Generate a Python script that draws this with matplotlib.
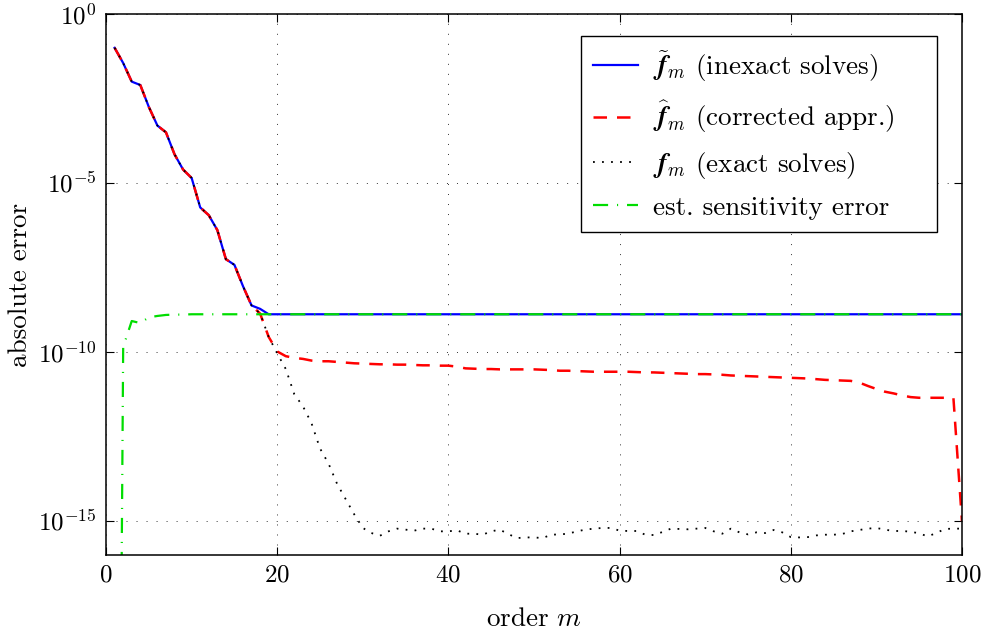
import matplotlib as mpl

mpl.use("Agg")

import matplotlib.pyplot as plt
import numpy as np
from matplotlib.ticker import FixedLocator, LogFormatterMathtext, NullLocator

plt.rcParams["font.family"] = "serif"
plt.rcParams["font.serif"] = ["cmr10"]
plt.rcParams["mathtext.fontset"] = "cm"
plt.rcParams["axes.formatter.use_mathtext"] = True
plt.rcParams["font.size"] = 19

m = np.arange(1, 101)

# log10 of the absolute error
head = [-1.0, -1.45, -2.0, -2.1, -2.75, -3.3, -3.5, -4.15, -4.6, -4.85,
        -5.72, -5.95, -6.39, -7.25, -7.42, -8.05, -8.62]

inexact_log = head + [-8.72, -8.88] + [-8.88] * 81

corrected_log = head + [
    -8.86, -9.55, -9.98, -10.12, -10.17, -10.2, -10.25, -10.27, -10.27, -10.29,
    -10.31, -10.33, -10.34, -10.35, -10.36, -10.36, -10.37, -10.37, -10.38, -10.39,
    -10.39, -10.4, -10.4, -10.43, -10.48, -10.49, -10.5, -10.5, -10.51, -10.51,
    -10.51, -10.51, -10.51, -10.52, -10.53, -10.55, -10.55, -10.56, -10.57, -10.58,
    -10.58, -10.58, -10.58, -10.58, -10.59, -10.6, -10.6, -10.61, -10.62, -10.63,
    -10.64, -10.65, -10.65, -10.66, -10.67, -10.69, -10.7, -10.71, -10.72, -10.73,
    -10.74, -10.75, -10.76, -10.77, -10.78, -10.8, -10.82, -10.83, -10.84, -10.85,
    -10.9, -11.0, -11.09, -11.17, -11.22, -11.28, -11.33, -11.35, -11.35, -11.35,
    -11.35, -11.35, -15.0,
]

exact_log = head + [
    -8.86, -9.55, -10.04, -10.5, -11.25, -11.6, -12.1, -12.85, -13.3, -13.9,
    -14.35, -14.8, -15.2, -15.35, -15.43, -15.3, -15.22, -15.25, -15.28, -15.22,
    -15.22, -15.3, -15.3, -15.27, -15.37, -15.37, -15.4, -15.3, -15.25, -15.38,
    -15.5, -15.48, -15.48, -15.5, -15.4, -15.39, -15.37, -15.3, -15.25, -15.22,
    -15.2, -15.2, -15.28, -15.29, -15.29, -15.4, -15.41, -15.32, -15.22, -15.23,
    -15.24, -15.22, -15.2, -15.3, -15.37, -15.22, -15.33, -15.39, -15.33, -15.35,
    -15.26, -15.33, -15.47, -15.48, -15.47, -15.42, -15.4, -15.4, -15.38, -15.3,
    -15.26, -15.22, -15.2, -15.25, -15.29, -15.29, -15.31, -15.36, -15.45, -15.35,
    -15.23, -15.22, -15.22,
]

sensitivity_log = [-46.0, -9.85, -9.08, -9.14, -8.97, -8.93, -8.9, -8.89, -8.89,
                   -8.88] + [-8.88] * 90

labels = [
    r"$\widetilde{\boldsymbol{f}}_m$ (inexact solves)",
    r"$\widehat{\boldsymbol{f}}_m$ (corrected appr.)",
    r"$\boldsymbol{f}_m$ (exact solves)",
    "est. sensitivity error",
]

fig = plt.figure(figsize=(9.82, 6.34), dpi=100)
ax = fig.add_axes([0.108, 0.1246, 0.8716, 0.8533])

ax.semilogy(m, 10.0 ** np.array(inexact_log), color="#0000ff", lw=1.6,
            label=labels[0])
ax.semilogy(m, 10.0 ** np.array(corrected_log), color="#ff0000", lw=1.8,
            linestyle=(0, (5.4, 4.0)), label=labels[1])
ax.semilogy(m, 10.0 ** np.array(exact_log), color="black", lw=1.3,
            linestyle=(0, (1, 4)), label=labels[2])
ax.semilogy(m, 10.0 ** np.array(sensitivity_log), color="#00dd00", lw=1.6,
            linestyle=(0, (6.8, 4.0, 0.5, 4.0)), label=labels[3])

ax.set_xlim(0, 100)
ax.set_ylim(1e-16, 1e0)
ax.set_xticks([0, 20, 40, 60, 80, 100])
ax.yaxis.set_major_locator(FixedLocator([1e-15, 1e-10, 1e-5, 1e0]))
ax.yaxis.set_major_formatter(LogFormatterMathtext())
ax.yaxis.set_minor_locator(NullLocator())
ax.tick_params(direction="in", length=6, width=0.8, top=True, right=True,
               labelsize=18, pad=7)
ax.grid(True, color="#333333", lw=0.7, linestyle=(0, (1, 9.3)))
for s in ax.spines.values():
    s.set_linewidth(1.1)

ax.set_xlabel(r"order $m$", fontsize=19.5, labelpad=15)
ax.set_ylabel("absolute error", fontsize=19.5, labelpad=4)

# matlab-style legend: wide empty margin on the right of the text
handles, _ = ax.get_legend_handles_labels()
padded = [lab + "    " for lab in labels]
leg = ax.legend(handles, padded, loc="upper right",
                bbox_to_anchor=(0.9708, 0.9593), borderaxespad=0,
                fancybox=False, framealpha=1, edgecolor="black",
                handlelength=1.65, handletextpad=0.55, labelspacing=0.55,
                borderpad=0.45, fontsize=19.5)
leg.get_frame().set_linewidth(1.0)

plt.savefig("out.png", dpi=100)
